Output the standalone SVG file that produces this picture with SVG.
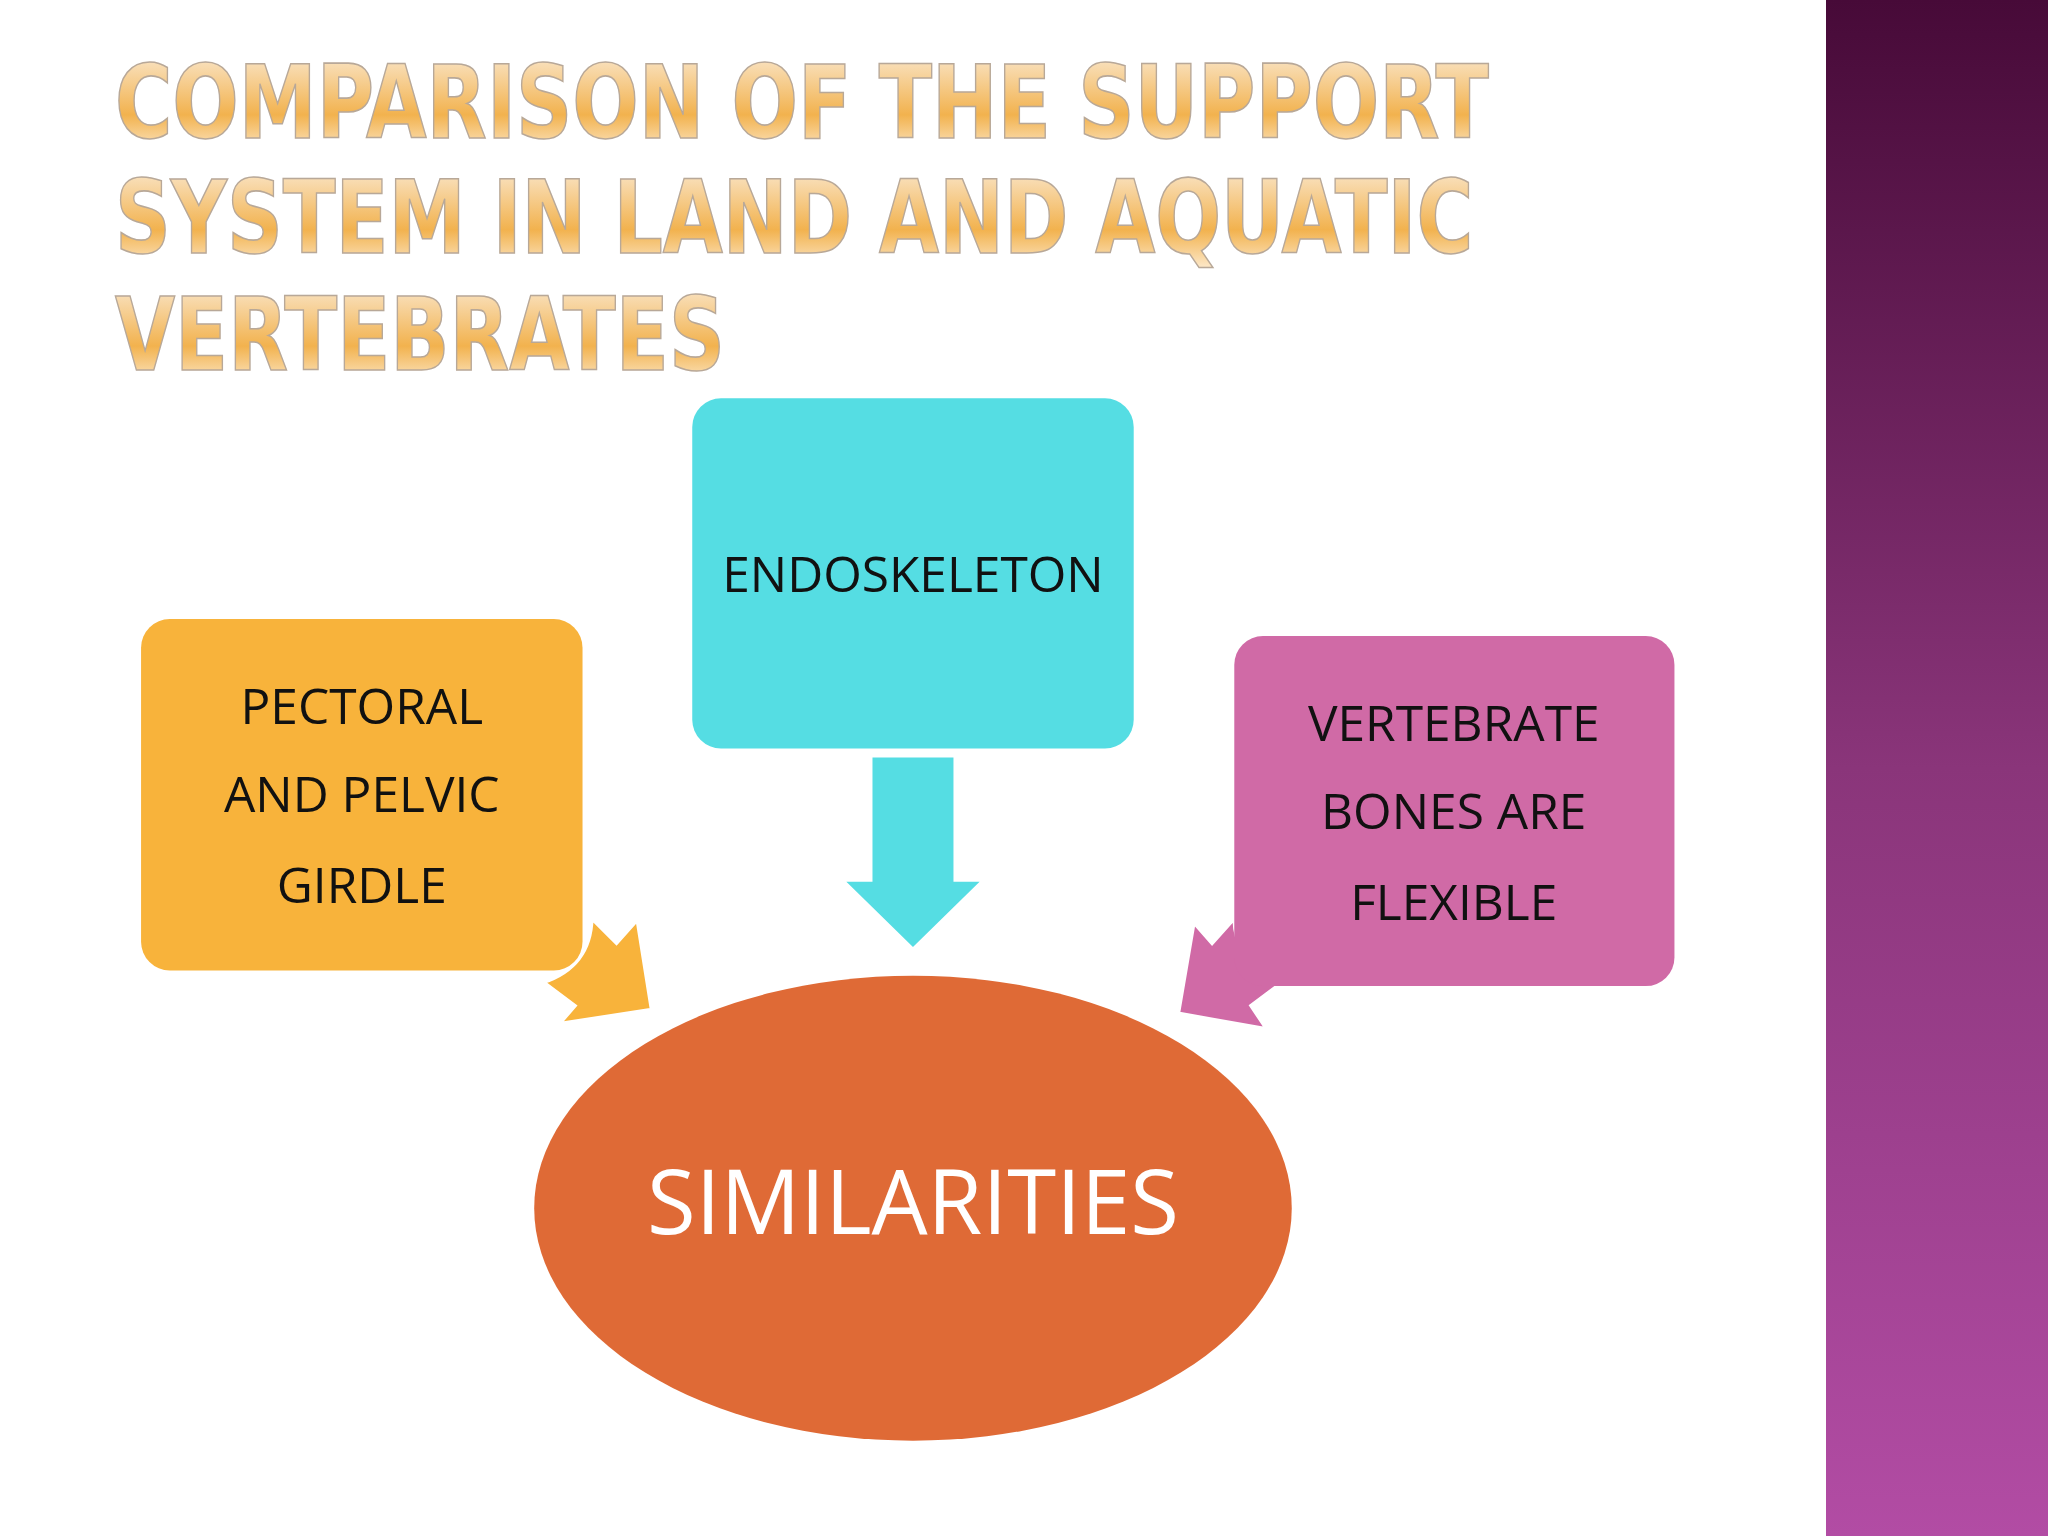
<svg xmlns="http://www.w3.org/2000/svg" width="2048" height="1536" viewBox="0 0 2048 1536">
<defs>
<linearGradient id="side" x1="0" y1="0" x2="0" y2="1"><stop offset="0" stop-color="#470a38"/><stop offset="0.5" stop-color="#8a357a"/><stop offset="1" stop-color="#b24ca4"/></linearGradient>
<linearGradient id="tg" x1="0" y1="0" x2="0" y2="1"><stop offset="0" stop-color="#fbeedd"/><stop offset="0.6" stop-color="#f2b24e"/><stop offset="1" stop-color="#fff6e8"/></linearGradient>
<style>
.t{font-family:"Liberation Sans Narrow","DejaVu Sans Condensed","Liberation Sans",sans-serif;font-weight:bold;font-size:78px;fill:url(#tg);stroke:#b8a898;stroke-width:1.2}
.n{font-family:"Open Sans","Noto Sans",sans-serif;font-size:38px;fill:#111;text-anchor:middle}
</style>
</defs>
<rect width="2048" height="1536" fill="#ffffff"/>
<rect x="1826" y="0" width="222" height="1536" fill="url(#side)"/>
<g transform="scale(1.30612)">
<g id="title">
<text class="t" x="88" y="106" textLength="1052" lengthAdjust="spacingAndGlyphs">COMPARISON OF THE SUPPORT</text>
<text class="t" x="88" y="194" textLength="1040" lengthAdjust="spacingAndGlyphs">SYSTEM IN LAND AND AQUATIC</text>
<text class="t" x="88" y="283" textLength="467" lengthAdjust="spacingAndGlyphs">VERTEBRATES</text>
</g>
<g id="connectors">
<polygon points="668,580 730,580 730,675 750,675 699,725 648,675 668,675" fill="#55dde3"/>
<path d="M416,752 L440,770 L428,784 L499,773 L488,704 L472,722 L453,703 Q452,740 416,752 Z" fill="#f8b33b" stroke="#fff" stroke-width="3"/>
<path d="M982,752 L958,770 L970,788 L902,776 L914,706 L928,722 L945,703 Q946,740 982,752 Z" fill="#d06aa6" stroke="#fff" stroke-width="3"/>
</g>
<g id="endoskeleton"><rect x="530" y="305" width="338" height="268" rx="22" fill="#55dde3"/><text class="n" x="699" y="453">ENDOSKELETON</text></g>
<g id="pectoral"><rect x="108" y="474" width="338" height="269" rx="22" fill="#f8b33b"/><text class="n" x="277" y="554">PECTORAL</text><text class="n" x="277" y="622">AND PELVIC</text><text class="n" x="277" y="691">GIRDLE</text></g>
<g id="vertebrate"><rect x="945" y="487" width="337" height="268" rx="22" fill="#d06aa6"/><text class="n" x="1113" y="567">VERTEBRATE</text><text class="n" x="1113" y="635">BONES ARE</text><text class="n" x="1113" y="704">FLEXIBLE</text></g>
<g id="similarities"><ellipse cx="699" cy="925" rx="290" ry="178" fill="#df6a36"/><text x="699" y="945" text-anchor="middle" font-family="Open Sans,Noto Sans,sans-serif" font-size="68" fill="#fff">SIMILARITIES</text></g>
</g>
</svg>
